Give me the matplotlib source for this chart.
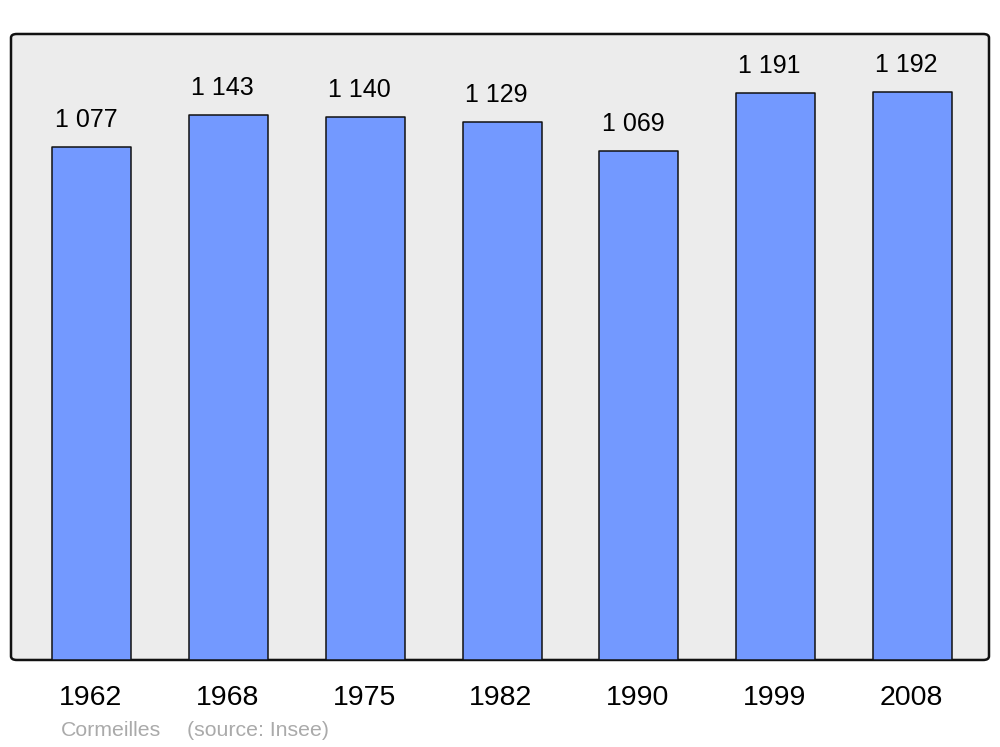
import matplotlib.pyplot as plt
from matplotlib.patches import FancyBboxPatch

years = ['1962', '1968', '1975', '1982', '1990', '1999', '2008']
population = [1077, 1143, 1140, 1129, 1069, 1191, 1192]
labels = ['1 077', '1 143', '1 140', '1 129', '1 069', '1 191', '1 192']

plt.rcParams['font.family'] = ['Liberation Sans', 'DejaVu Sans']

fig = plt.figure(figsize=(10, 7.47), dpi=100)
ax = fig.add_axes([0.011, 0.1165, 0.978, 0.838])
ax.set_facecolor('none')

# rounded grey panel
panel = FancyBboxPatch((0, 0), 1, 1, boxstyle='round,pad=0,rounding_size=0.006',
                       transform=ax.transAxes, facecolor='#ececec', edgecolor='#111111',
                       linewidth=1.8, zorder=0, clip_on=False)
ax.add_patch(panel)

x = list(range(len(years)))
ax.bar(x, population, width=0.578, color='#7399ff', edgecolor='#111111',
       linewidth=1.1, zorder=2, joinstyle='round')

for xi, v, lab in zip(x, population, labels):
    ax.annotate(lab, (xi - 0.044, v), xytext=(0, 19.5), textcoords='offset points',
                ha='center', va='center', fontsize=18, color='black')

for xi, yr in zip(x, years):
    ax.text(xi - 0.01, -0.06, yr, transform=ax.get_xaxis_transform(),
            ha='center', va='center', fontsize=20.5, color='black')

ax.set_xlim(-0.592, 6.56)
ax.set_ylim(0, 1314)
ax.set_xticks([])
ax.set_yticks([])
for s in ax.spines.values():
    s.set_visible(False)

fig.text(0.061, 1 - 731 / 747, 'Cormeilles', fontsize=15.3, color='#aaaaaa', va='center')
fig.text(0.187, 1 - 731 / 747, '(source: Insee)', fontsize=15.3, color='#aaaaaa', va='center')

fig.savefig('out.png', dpi=100)
